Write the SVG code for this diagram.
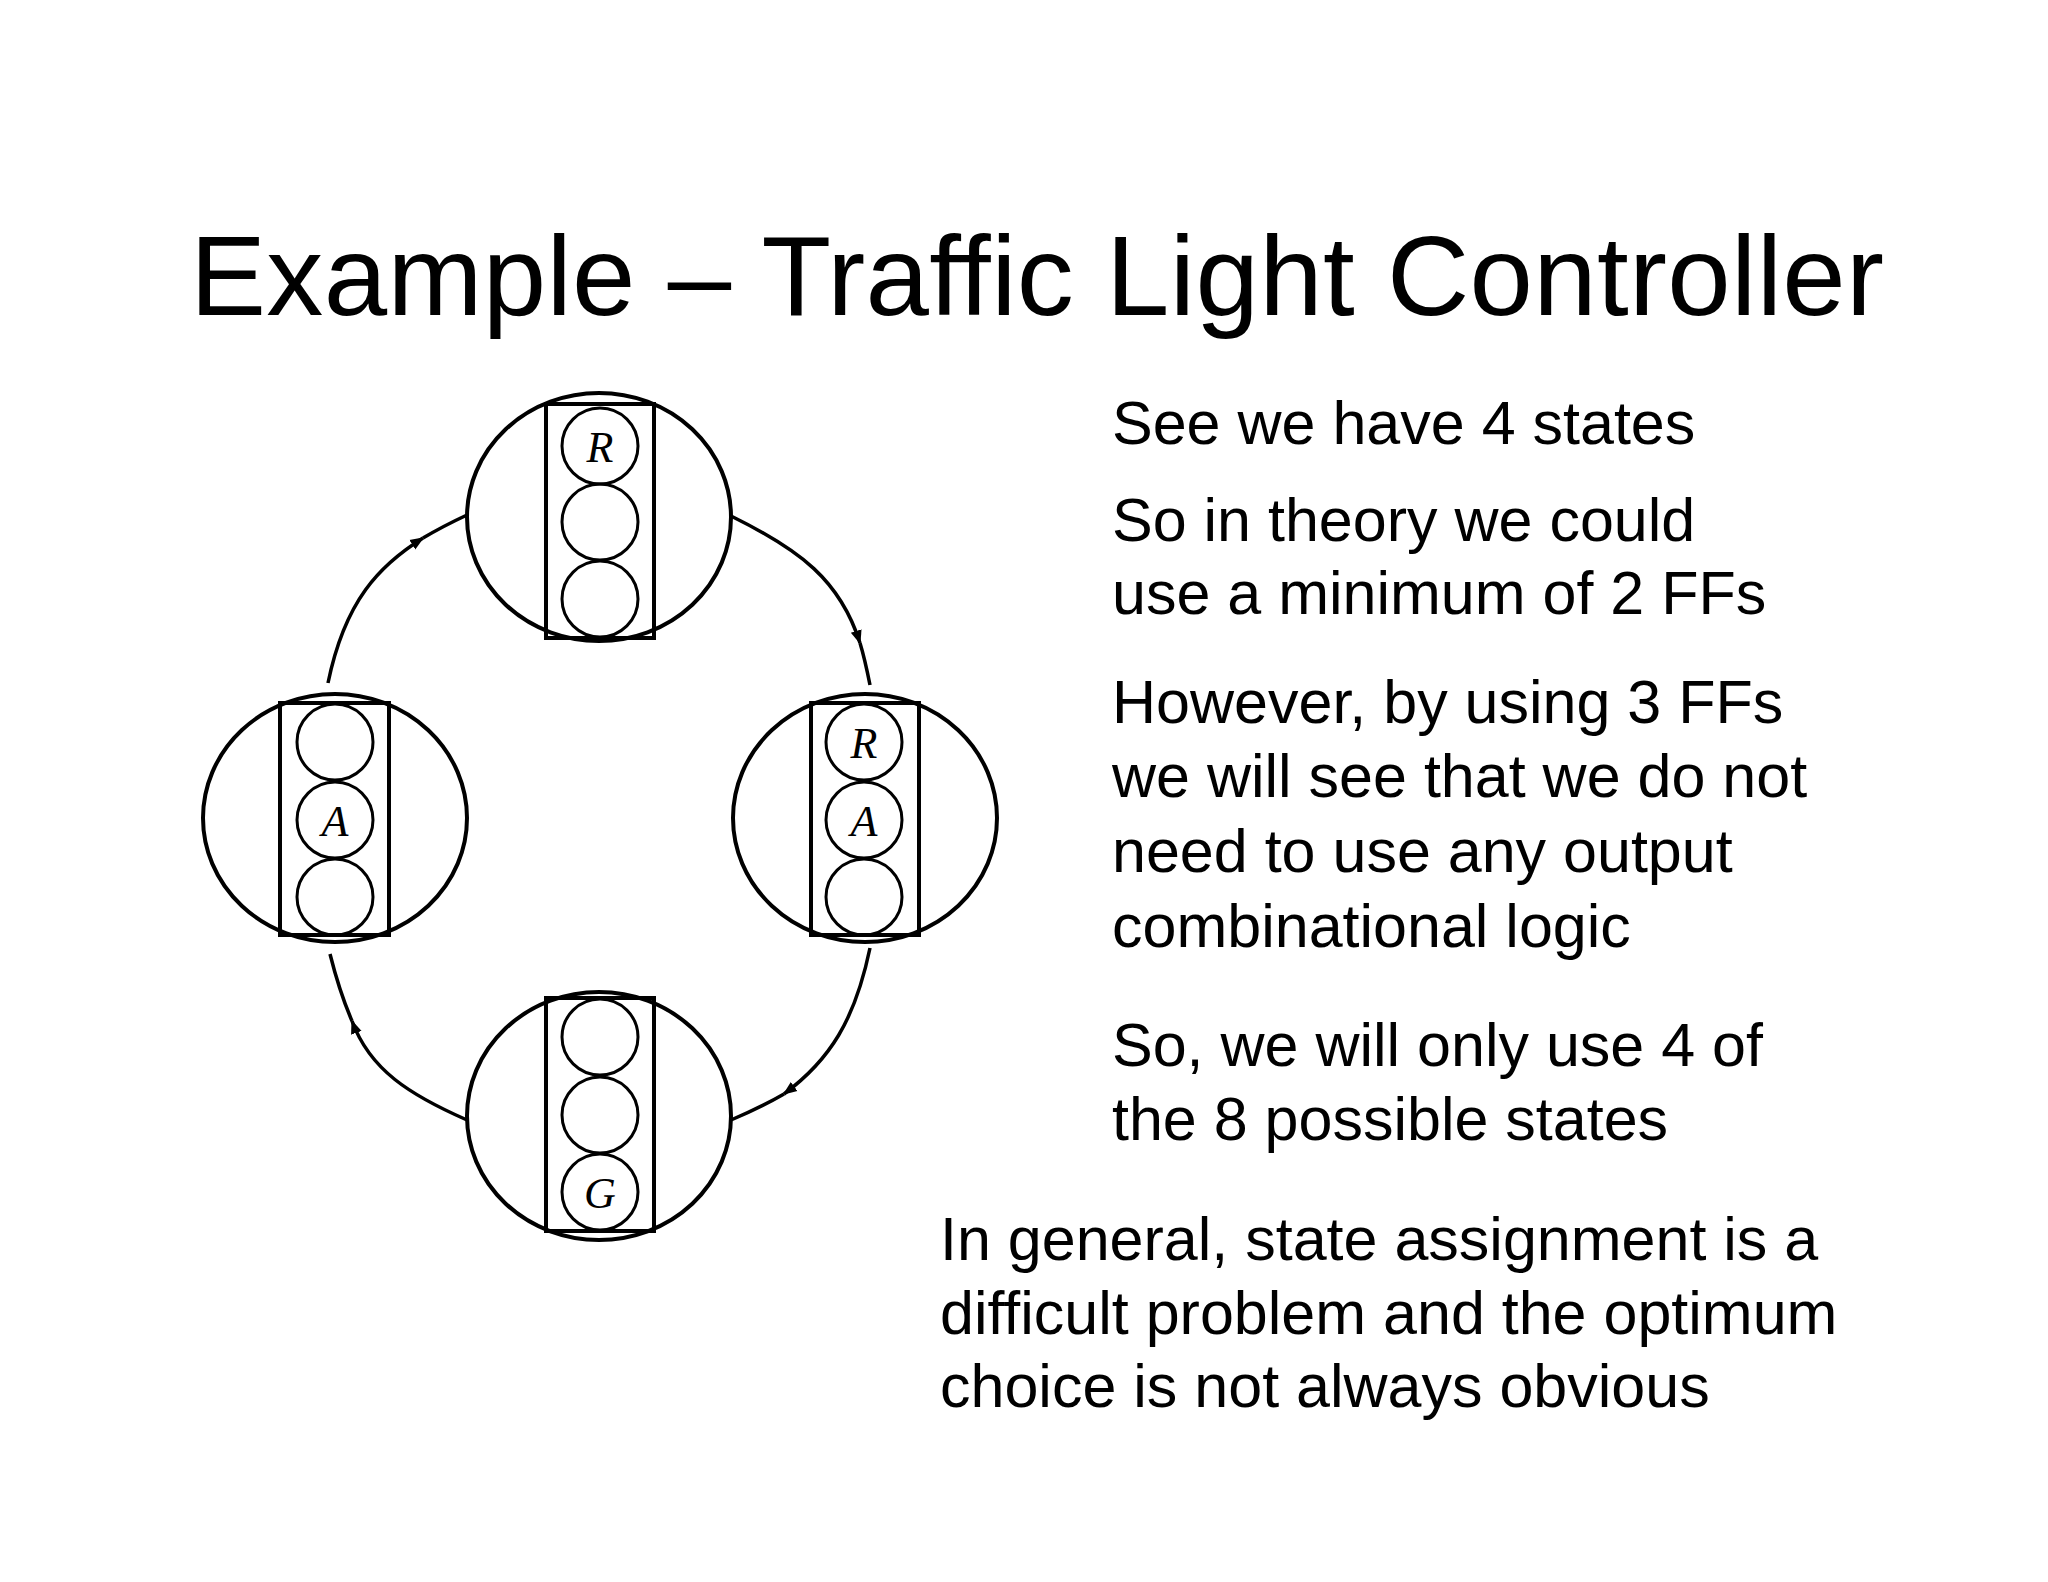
<svg xmlns="http://www.w3.org/2000/svg" width="2048" height="1582" viewBox="0 0 2048 1582">
<defs>
<marker id="ah" viewBox="0 0 10 10" refX="9" refY="5" markerWidth="14" markerHeight="14" markerUnits="userSpaceOnUse" orient="auto"><path d="M0,1 L10,5 L0,9 Z" fill="#000"/></marker>
</defs>
<style>
.st{fill:#fff;stroke:#000;stroke-width:4}
.bx{fill:none;stroke:#000;stroke-width:4}
.lt{fill:none;stroke:#000;stroke-width:3}
.lb{font-family:"Liberation Serif",serif;font-style:italic;font-size:44px;text-anchor:middle}
.tx{font-family:"Liberation Sans",Arial,sans-serif;font-size:61px;fill:#000}
.cn{fill:none;stroke:#000;stroke-width:3.5}
</style>
<rect width="2048" height="1582" fill="#fff"/>
<text x="190" y="315" font-family="Liberation Sans,Arial,sans-serif" font-size="114" textLength="1694">Example – Traffic Light Controller</text>
<g id="connectors">
<path class="cn" d="M328,683 C345,600 380,565 423,538" marker-end="url(#ah)"/>
<path class="cn" d="M423,538 C440,528 452,522 467,515"/>
<path class="cn" d="M731,516 C800,550 840,580 860,643" marker-end="url(#ah)"/>
<path class="cn" d="M860,643 C864,656 867,670 870,685"/>
<path class="cn" d="M870,948 C855,1020 830,1060 784,1094" marker-end="url(#ah)"/>
<path class="cn" d="M784,1094 C765,1105 750,1112 731,1120"/>
<path class="cn" d="M467,1120 C410,1095 370,1070 352,1021" marker-end="url(#ah)"/>
<path class="cn" d="M352,1021 C343,1000 336,978 330,954"/>
</g>
<g id="node-red">
<ellipse class="st" cx="599" cy="517" rx="132" ry="124"/>
<rect class="bx" x="546" y="404" width="108" height="234"/>
<circle class="lt" cx="600" cy="446" r="38"/><circle class="lt" cx="600" cy="522" r="38"/><circle class="lt" cx="600" cy="599" r="38"/>
<text class="lb" x="600" y="462">R</text>
</g>
<g id="node-redamber">
<ellipse class="st" cx="865" cy="818" rx="132" ry="124"/>
<rect class="bx" x="811" y="703" width="108" height="232"/>
<circle class="lt" cx="864" cy="742" r="38"/><circle class="lt" cx="864" cy="820" r="38"/><circle class="lt" cx="864" cy="897" r="38"/>
<text class="lb" x="864" y="758">R</text>
<text class="lb" x="864" y="836">A</text>
</g>
<g id="node-green">
<ellipse class="st" cx="599" cy="1116" rx="132" ry="124"/>
<rect class="bx" x="546" y="998" width="108" height="233"/>
<circle class="lt" cx="600" cy="1037" r="38"/><circle class="lt" cx="600" cy="1115" r="38"/><circle class="lt" cx="600" cy="1192" r="38"/>
<text class="lb" x="600" y="1208">G</text>
</g>
<g id="node-amber">
<ellipse class="st" cx="335" cy="818" rx="132" ry="124"/>
<rect class="bx" x="280" y="703" width="109" height="232"/>
<circle class="lt" cx="335" cy="742" r="38"/><circle class="lt" cx="335" cy="820" r="38"/><circle class="lt" cx="335" cy="897" r="38"/>
<text class="lb" x="335" y="836">A</text>
</g>
<g id="notes">
<text class="tx" x="1112" y="444">See we have 4 states</text>
<text class="tx" x="1112" y="541">So in theory we could</text>
<text class="tx" x="1112" y="614">use a minimum of 2 FFs</text>
<text class="tx" x="1112" y="723">However, by using 3 FFs</text>
<text class="tx" x="1112" y="797">we will see that we do not</text>
<text class="tx" x="1112" y="872">need to use any output</text>
<text class="tx" x="1112" y="947">combinational logic</text>
<text class="tx" x="1112" y="1066">So, we will only use 4 of</text>
<text class="tx" x="1112" y="1140">the 8 possible states</text>
<text class="tx" x="940" y="1260">In general, state assignment is a</text>
<text class="tx" x="940" y="1334">difficult problem and the optimum</text>
<text class="tx" x="940" y="1407">choice is not always obvious</text>
</g>
</svg>
